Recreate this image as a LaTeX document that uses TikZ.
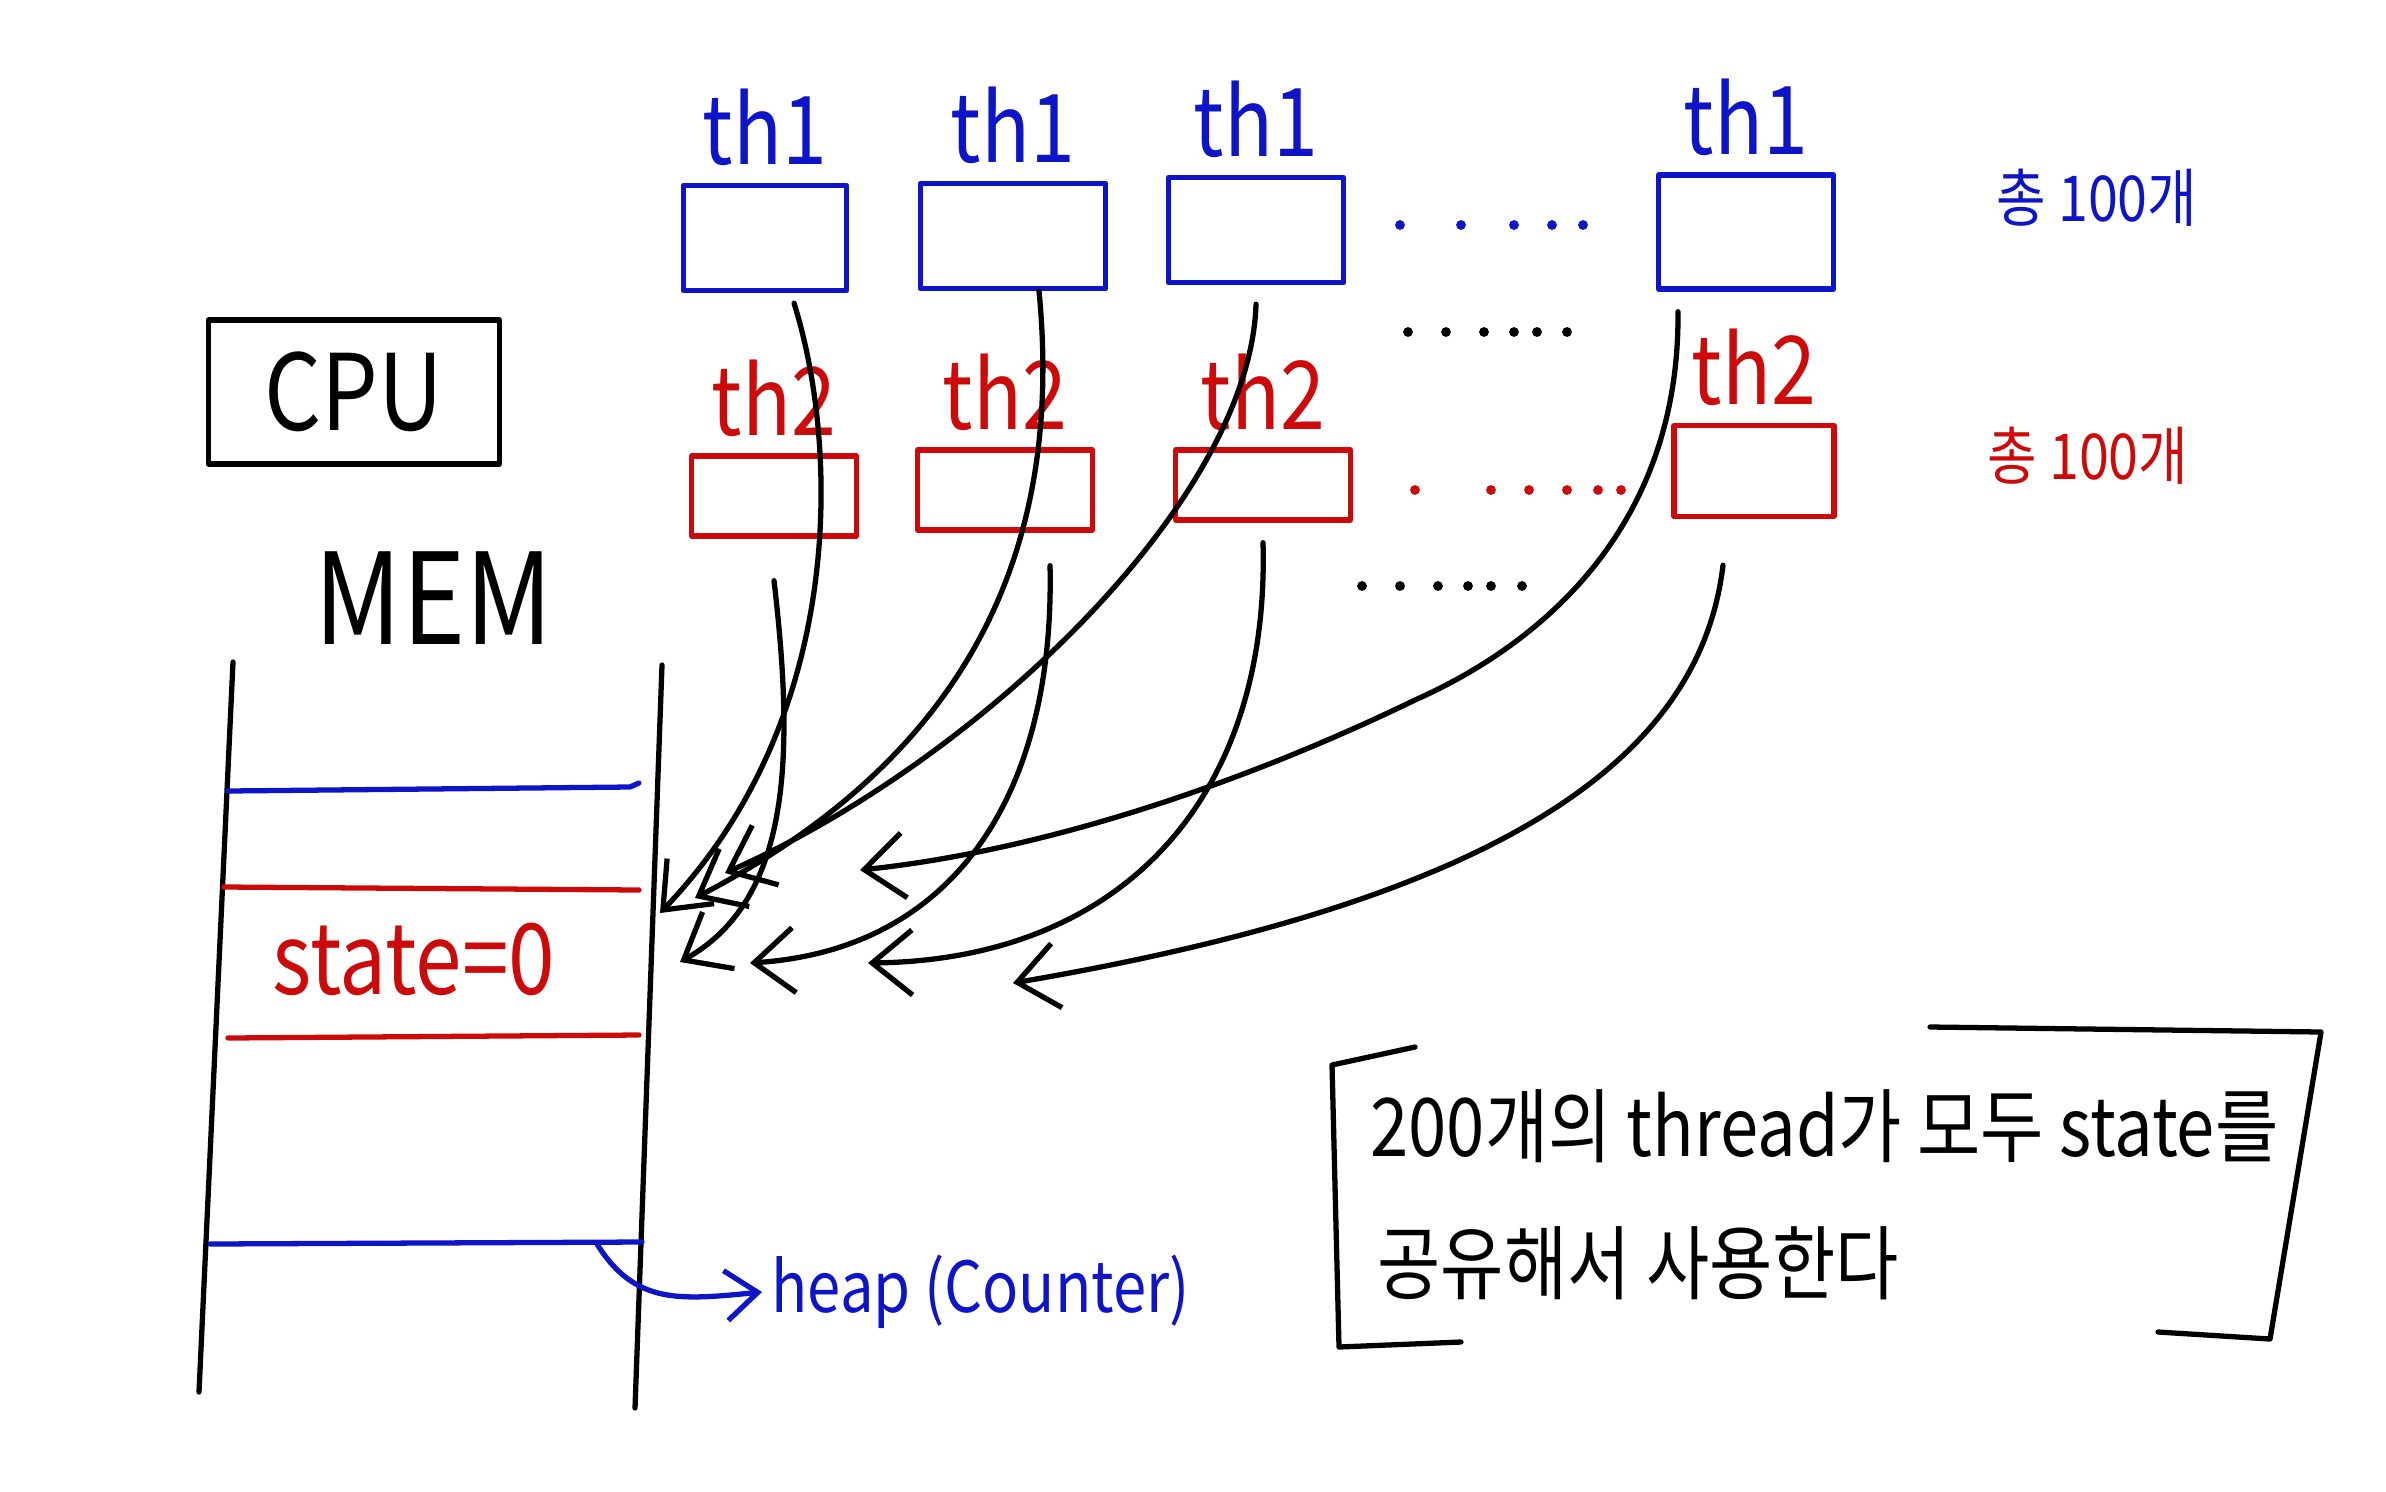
\documentclass[tikz,border=0pt]{standalone}
\usepackage{fontspec}
\usepackage{tikz}
\usetikzlibrary{arrows.meta, positioning}
\usepackage{xcolor}
\definecolor{penblue}{RGB}{14,20,200}
\definecolor{penred}{RGB}{205,10,10}
\newfontfamily\handfont[FakeStretch=0.85]{Noto Sans CJK KR}

\begin{document}
\begin{tikzpicture}[x=0.01cm, y=-0.01cm, line width=1.5pt, line cap=round, line join=round,
  thbox/.style={draw, minimum width=1.7cm, minimum height=1.05cm, inner sep=0pt},
  hand/.style={font=\handfont\fontsize{#1}{#1}\selectfont, inner sep=0pt},
  link/.style={-{Straight Barb[length=4mm, width=6.5mm]}}]
  \useasboundingbox (0,0) rectangle (2386,1491);

  % Threads, first kind
  \node[thbox, draw=penblue, minimum width=1.63cm] (th1a) at (765,238) {};
  \node[thbox, draw=penblue, minimum width=1.85cm] (th1b) at (1013,236) {};
  \node[thbox, draw=penblue, minimum width=1.75cm] (th1c) at (1256,230) {};
  \node[thbox, draw=penblue, minimum width=1.75cm, minimum height=1.14cm] (th1d) at (1746,232) {};
  \foreach \b in {a,b,c,d}
    \node[hand=27, text=penblue, above=0.14cm of th1\b] (lab1\b) {th1};

  % Threads, second kind
  \node[thbox, draw=penred, minimum width=1.65cm, minimum height=0.8cm] (th2a) at (774,496) {};
  \node[thbox, draw=penred, minimum width=1.75cm, minimum height=0.8cm] (th2b) at (1005,490) {};
  \node[thbox, draw=penred, minimum width=1.75cm, minimum height=0.7cm] (th2c) at (1263,485) {};
  \node[thbox, draw=penred, minimum width=1.6cm, minimum height=0.91cm] (th2d) at (1754,471) {};
  \foreach \b in {a,b,c,d}
    \node[hand=27, text=penred, above=0.14cm of th2\b] (lab2\b) {th2};

  % Dots
  \foreach \x in {1400,1461,1514,1552,1583} \fill[penblue] (\x,225) circle (1.4pt);
  \foreach \x in {1408,1446,1484,1514,1537,1567} \fill (\x,332) circle (1.4pt);
  \foreach \x in {1415,1491,1529,1567,1598,1621} \fill[penred] (\x,490) circle (1.4pt);
  \foreach \x in {1362,1400,1438,1468,1491,1522} \fill (\x,586) circle (1.4pt);

  \node[hand=18, text=penblue] (tot1) at (2097,198) {총 100개};
  \node[hand=18, text=penred] (tot2) at (2088,456) {총 100개};

  % CPU and memory
  \node[draw, hand=30, minimum width=2.91cm, minimum height=1.44cm] (cpu) at (354,392) {CPU};
  \node[hand=36] (mem) at (434,598) {MEM};
  \draw (233,662) -- (199,1392);
  \draw (662,665) -- (635,1408);
  \draw[penblue] (228,791) -- (630,787) -- (639,783);
  \draw[penred] (224,887) -- (639,890);
  \draw[penred] (228,1038) -- (639,1035);
  \draw[penblue] (210,1244) -- (642,1242);
  \node[hand=28, text=penred] (state) at (414,959) {state=0};

  % Heap
  \coordinate (heapfrom) at (597,1244);
  \node[hand=20, text=penblue, anchor=west, inner sep=2pt] (heap) at (762,1292) {heap (Counter)};
  \draw[penblue, -{Straight Barb[length=3.2mm, width=5mm]}] (heapfrom) .. controls (635,1305) and (680,1300) .. (heap.west);

  % Arrows into state
  \coordinate (tipA) at (660,913);
  \coordinate (tipB) at (695,898);
  \coordinate (tipC) at (725,873);
  \coordinate (tipE) at (860,870);
  \coordinate (tipD) at (680,962);
  \coordinate (tipF) at (750,963);
  \coordinate (tipG) at (868,963);
  \coordinate (tipH) at (1013,983);
  \draw[link] ([xshift=2.9mm, yshift=-1mm]th1a.south) .. controls (840,450) and (845,720) .. (tipA);
  \draw[link] ([yshift=-4.2mm]th2a.south) .. controls (795,760) and (790,900) .. (tipD);
  \draw[link] ([xshift=2.6mm]th1b.south) .. controls (1065,560) and (960,760) .. (tipB);
  \draw[link] ([xshift=4.5mm, yshift=-3.3mm]th2b.south) .. controls (1055,800) and (950,950) .. (tipF);
  \draw[link] ([yshift=-1.9mm]th1c.south) .. controls (1250,500) and (980,760) .. (tipC);
  \draw[link] ([yshift=-2mm]th2c.south) .. controls (1270,800) and (1120,960) .. (tipG);
  \draw[link] ([xshift=-6.8mm, yshift=-2mm]th1d.south) .. controls (1680,520) and (1550,640) .. (1415,700)
    .. controls (1250,780) and (1050,850) .. (tipE);
  \draw[link] ([xshift=-3.1mm, yshift=-4.6mm]th2d.south) .. controls (1700,760) and (1500,900) .. (tipH);

  % Note
  \node[hand=23, anchor=west] (note1) at (1368,1126) {200개의 thread가 모두 state를};
  \node[hand=23, anchor=west] (note2) at (1375,1263) {공유해서 사용한다};
  \draw (1415,1047) -- (1332,1065) -- (1339,1347) -- (1461,1342);
  \draw (1930,1027) -- (2321,1032) -- (2270,1339) -- (2158,1332);
\end{tikzpicture}
\end{document}
